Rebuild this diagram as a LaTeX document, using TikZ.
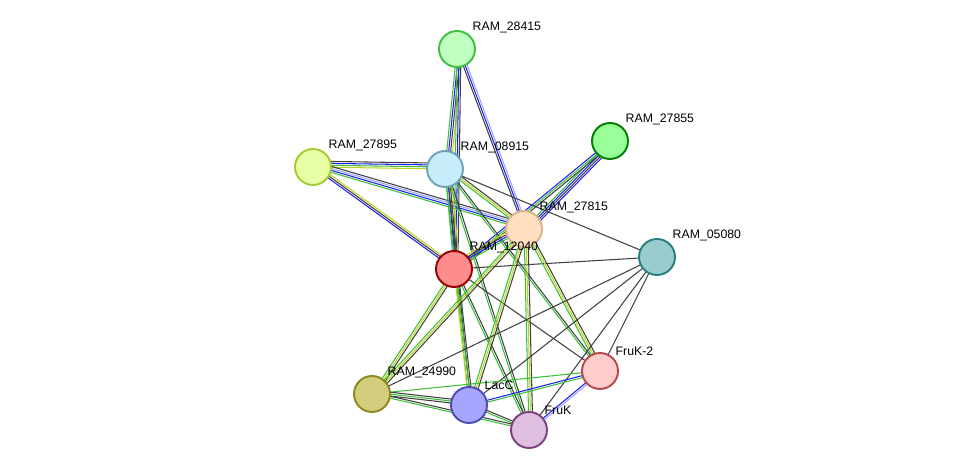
\documentclass[tikz,border=0pt]{standalone}
\usepackage{fontspec}
\setmainfont{Liberation Sans}
\usetikzlibrary{calc}
\definecolor{eg}{HTML}{3CC03C}
\definecolor{eb}{HTML}{2020F0}
\definecolor{ek}{HTML}{404040}
\definecolor{ey}{HTML}{C0D020}
\definecolor{el}{HTML}{9AA8FF}
% draws parallel strands between two nodes, one per colour
\newcommand{\strands}[3]{%
  \foreach \c [count=\i] in {#3} {
    \pgfmathsetmacro{\o}{(\i-1)*1.1}
    \draw[\c] ($(#1)!\o pt!90:(#2)$) -- ($(#2)!\o pt!-90:(#1)$);
  }}
\begin{document}
\begin{tikzpicture}[x=0.02cm,y=-0.02cm,
    prot/.style={circle,minimum size=0.72cm,inner sep=0pt,line width=1.1pt},
    lab/.style={font=\fontsize{7}{8}\selectfont,anchor=south west,inner sep=1pt},
    every path/.style={line width=0.6pt}]
  \useasboundingbox (0,0) rectangle (975,475);
  \coordinate (n28415) at (457,49);
  \coordinate (n27855) at (610,141);
  \coordinate (n27895) at (313,167);
  \coordinate (n08915) at (445,169);
  \coordinate (n27815) at (524,229);
  \coordinate (n05080) at (657,257);
  \coordinate (n12040) at (454,269);
  \coordinate (fruk2) at (600,371);
  \coordinate (n24990) at (372,394);
  \coordinate (lacc) at (469,405);
  \coordinate (fruk) at (529,430);
  % connectors
  \strands{n28415}{n08915}{eg,eb,ek,ey}
  \strands{n28415}{n12040}{eg,eb,ek}
  \strands{n28415}{n27815}{ek,eb,el}
  \strands{n27855}{n27815}{eg,eb,ek,eb}
  \strands{n27855}{n12040}{eb,eg,ek}
  \strands{n27895}{n08915}{ey,eg,eb,ek}
  \strands{n27895}{n12040}{eb,ek,ey}
  \strands{n27895}{n27815}{eg,eb,el,ek}
  \strands{n08915}{n12040}{eg,eb,ek,ey}
  \strands{n08915}{n27815}{eg,ey,ek}
  \strands{n08915}{n05080}{ek}
  \strands{n08915}{fruk2}{eg,ek}
  \strands{n08915}{lacc}{eg,ek}
  \strands{n08915}{fruk}{eg,ek}
  \strands{n12040}{n27815}{eg,eb,ek,ey}
  \strands{n12040}{n05080}{ek}
  \strands{n12040}{fruk2}{ek}
  \strands{n12040}{n24990}{eg,ey,ek}
  \strands{n12040}{lacc}{ey,eg,ek}
  \strands{n12040}{fruk}{eg,ek}
  \strands{n27815}{n24990}{eg,ey,ek}
  \strands{n27815}{lacc}{eg,ey,ek}
  \strands{n27815}{fruk}{eg,ey,ek}
  \strands{n27815}{fruk2}{eg,ey,ek}
  \strands{n05080}{n24990}{ek}
  \strands{n05080}{lacc}{ek}
  \strands{n05080}{fruk}{ek}
  \strands{n05080}{fruk2}{ek}
  \strands{fruk2}{n24990}{eg}
  \strands{fruk2}{lacc}{eb,eg}
  \strands{fruk2}{fruk}{eb,el}
  \strands{n24990}{lacc}{ek,eg,ek}
  \strands{n24990}{fruk}{eg,ek}
  \strands{lacc}{fruk}{eg,ek}
  % proteins
  \node[prot,fill=green!25!white,draw=green!50!gray] (p28415) at (n28415) {};
  \node[prot,fill=green!40!white,draw=green!50!black] (p27855) at (n27855) {};
  \node[prot,fill=lime!35!white,draw=lime!60!gray] (p27895) at (n27895) {};
  \node[prot,fill=cyan!22!white,draw=cyan!40!gray] (p08915) at (n08915) {};
  \node[prot,fill=orange!25!white,draw=brown!60!white] (p27815) at (n27815) {};
  \node[prot,fill=teal!40!white,draw=teal!70!gray] (p05080) at (n05080) {};
  \node[prot,fill=red!45!white,draw=red!60!black] (p12040) at (n12040) {};
  \node[prot,fill=red!20!white,draw=red!40!gray] (pfruk2) at (fruk2) {};
  \node[prot,fill=olive!40!white,draw=olive!80!gray] (p24990) at (n24990) {};
  \node[prot,fill=blue!35!white,draw=blue!40!gray] (placc) at (lacc) {};
  \node[prot,fill=violet!25!white,draw=violet!50!gray] (pfruk) at (fruk) {};
  % labels
  \node[lab] at (p28415.north east) {RAM\_28415};
  \node[lab] at (p27855.north east) {RAM\_27855};
  \node[lab] at (p27895.north east) {RAM\_27895};
  \node[lab] at (p08915.north east) {RAM\_08915};
  \node[lab] at (p27815.north east) {RAM\_27815};
  \node[lab] at (p05080.north east) {RAM\_05080};
  \node[lab] at (p12040.north east) {RAM\_12040};
  \node[lab] at (pfruk2.north east) {FruK-2};
  \node[lab] at (p24990.north east) {RAM\_24990};
  \node[lab] at (placc.north east) {LacC};
  \node[lab] at (pfruk.north east) {FruK};
\end{tikzpicture}
\end{document}
